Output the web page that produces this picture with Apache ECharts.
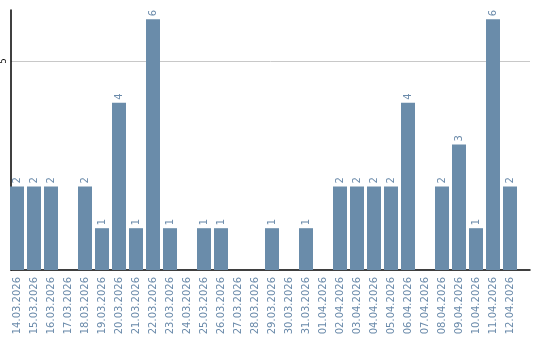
<!DOCTYPE html>
<html><head><meta charset="utf-8">
<script src="https://cdn.jsdelivr.net/npm/echarts@6/dist/echarts.min.js"></script>
<style>html,body{margin:0;padding:0;background:#fff}#c{width:540px;height:340px}</style>
</head><body><div id="c"></div>
<script>
const categories = ["14.03.2026","15.03.2026","16.03.2026","17.03.2026","18.03.2026","19.03.2026","20.03.2026","21.03.2026","22.03.2026","23.03.2026","24.03.2026","25.03.2026","26.03.2026","27.03.2026","28.03.2026","29.03.2026","30.03.2026","31.03.2026","01.04.2026","02.04.2026","03.04.2026","04.04.2026","05.04.2026","06.04.2026","07.04.2026","08.04.2026","09.04.2026","10.04.2026","11.04.2026","12.04.2026"];
const values = [2,2,2,0,2,1,4,1,6,1,0,1,1,0,0,1,0,1,0,2,2,2,2,4,0,2,3,1,6,2];
const yMax = 6.22;
const chart = echarts.init(document.getElementById('c'));
chart.setOption({
  animation:false,
  grid:[
    {left:10,right:10,top:10,bottom:70,containLabel:false},
    {left:8.5,right:21.5,top:10,bottom:70,containLabel:false}
  ],
  xAxis:[
    {gridIndex:0,type:'value',min:0,max:1,
      axisLine:{show:true,onZero:false,lineStyle:{color:'#000',width:1.5}},
      axisTick:{show:false},axisLabel:{show:false},splitLine:{show:false}},
    {gridIndex:1,type:'category',data:categories,
      axisLine:{show:false},
      axisTick:{show:false},
      axisLabel:{rotate:90,interval:0,color:'#6a8aaa',fontFamily:'DejaVu Sans',fontSize:10,margin:7}}
  ],
  yAxis:[
    {gridIndex:0,type:'value',min:0,max:yMax,interval:5,
      axisLine:{show:true,lineStyle:{color:'#000',width:1.5}},
      axisTick:{show:false},
      splitLine:{showMaxLine:false,showMinLine:false,lineStyle:{color:'#c8c8c8',width:1}},
      axisLabel:{rotate:90,color:'#000',fontFamily:'DejaVu Sans',fontSize:8,margin:3,
        formatter:v=>v===5?'5':''}},
    {gridIndex:1,type:'value',min:0,max:yMax,
      axisLine:{show:false},axisTick:{show:false},axisLabel:{show:false},splitLine:{show:false}}
  ],
  series:[{type:'bar',xAxisIndex:1,yAxisIndex:1,data:values.map(v=>v===0?null:v),barWidth:14,
    itemStyle:{color:'#6a8caa'},
    label:{show:true,position:'top',rotate:90,align:'left',verticalAlign:'middle',distance:3,color:'#6a8aaa',fontFamily:'DejaVu Sans',fontSize:10}}]
});
</script></body></html>
